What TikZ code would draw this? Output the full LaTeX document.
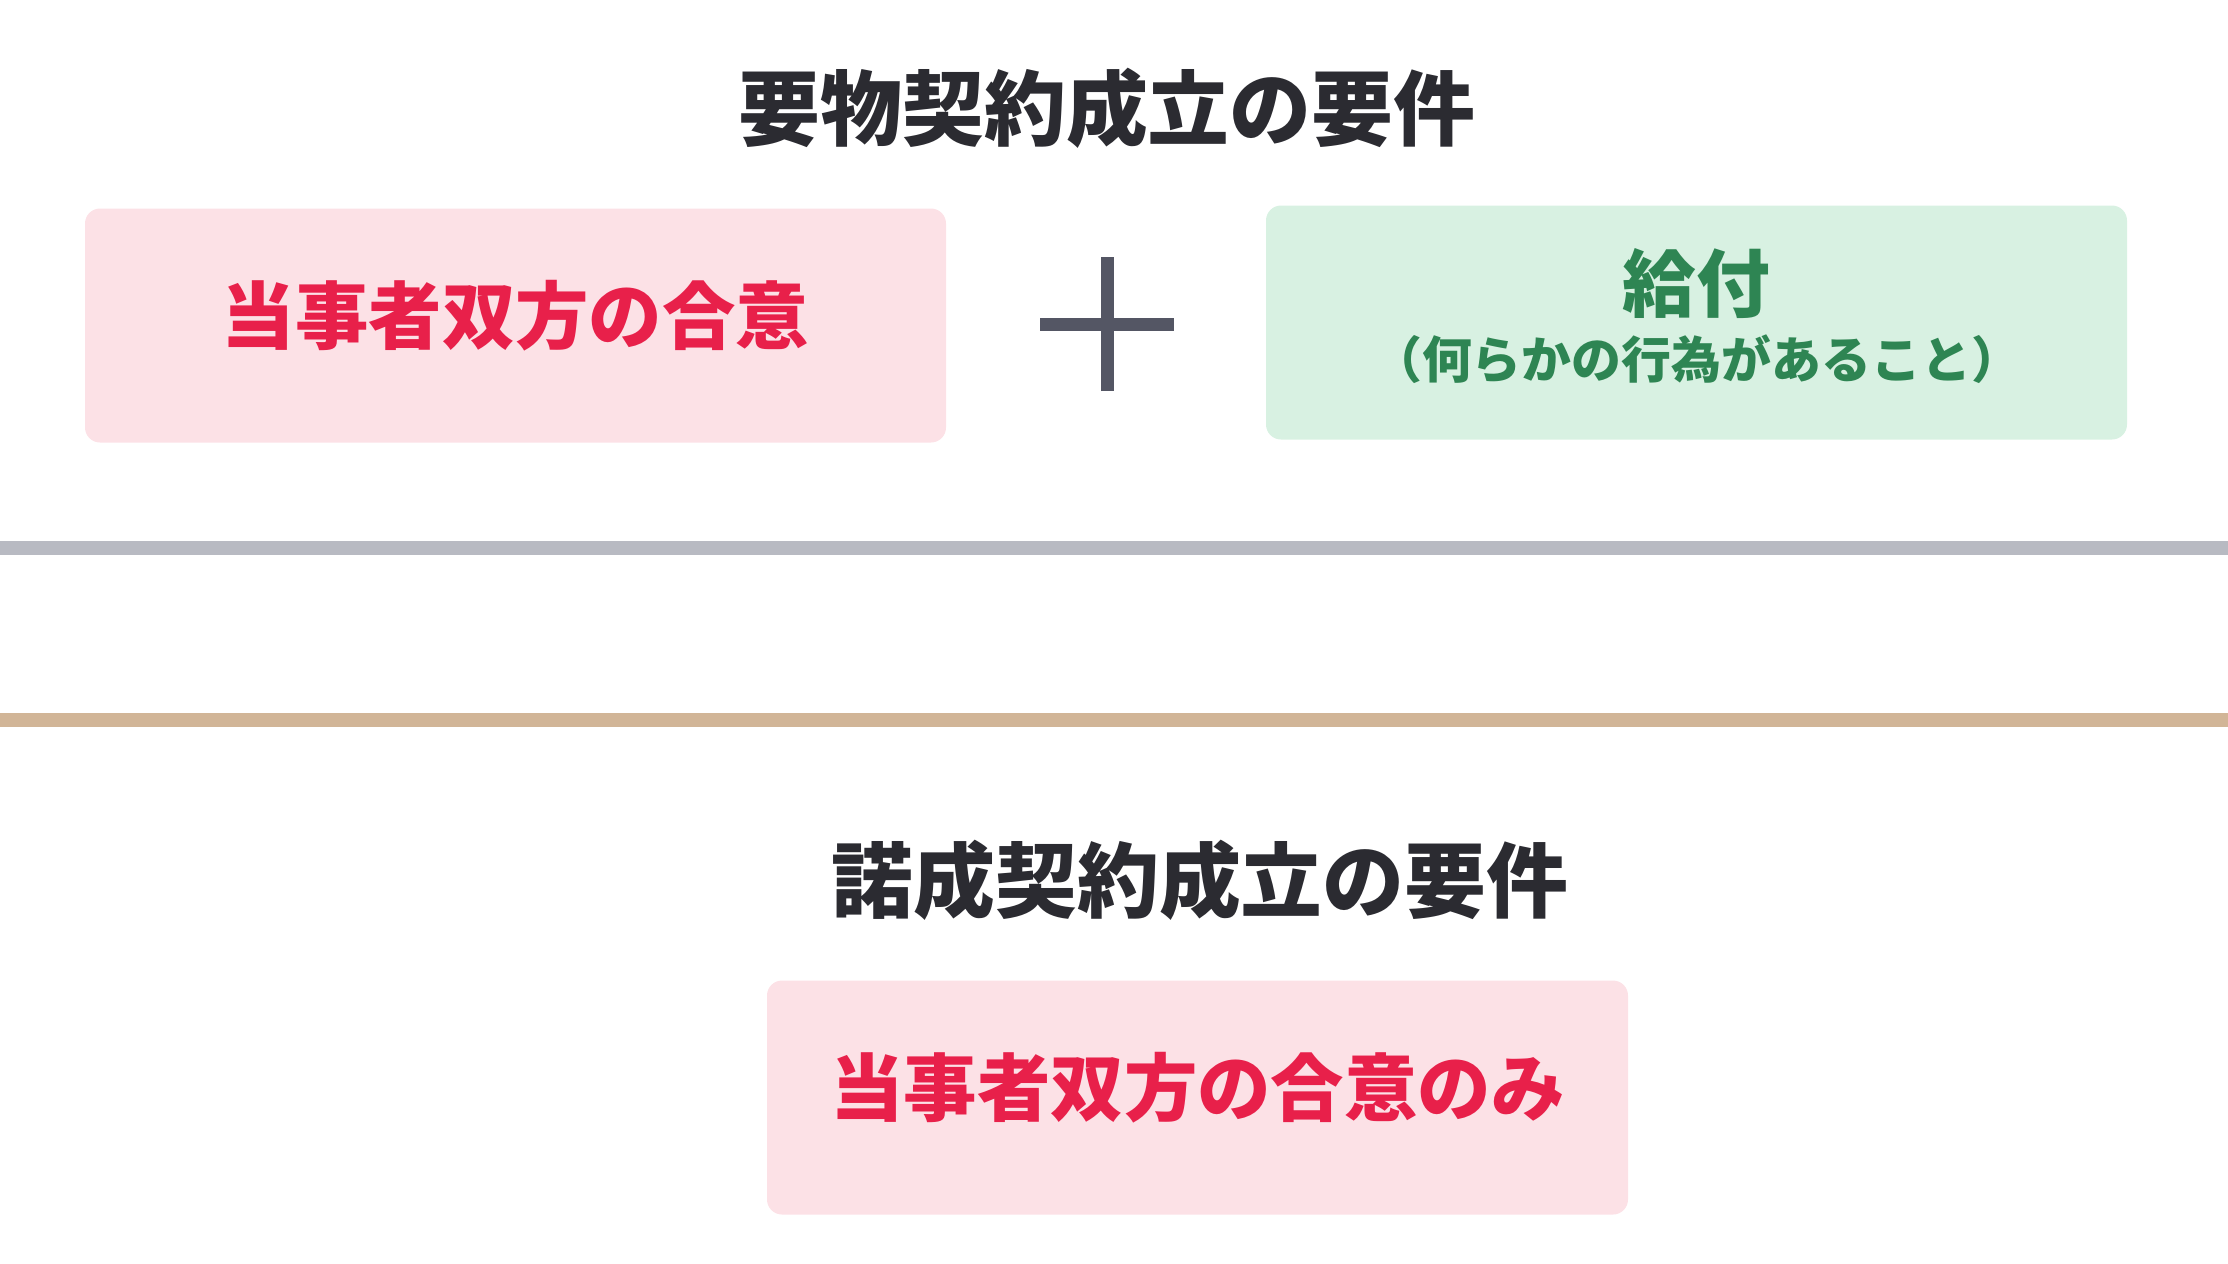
\documentclass[tikz,border=0pt]{standalone}
\usepackage{fontspec}
\setmainfont{Noto Sans CJK JP}
\usepackage{xcolor}
\usepackage{tikz}
\usetikzlibrary{positioning}

\definecolor{inkdark}{HTML}{2B2B31}
\definecolor{pinkfill}{HTML}{FCE1E6}
\definecolor{pinktext}{HTML}{E8204A}
\definecolor{greenfill}{HTML}{D8F1E2}
\definecolor{greentext}{HTML}{2E8553}
\definecolor{plusgray}{HTML}{545664}
\definecolor{rulegray}{HTML}{B8BAC2}
\definecolor{ruletan}{HTML}{D1B597}

\begin{document}
\begin{tikzpicture}[
    title/.style={text=inkdark, font=\fontsize{23.3}{28}\selectfont\bfseries, inner sep=0pt},
    pinkbox/.style={rectangle, fill=pinkfill, rounded corners=0.15cm, minimum width=8.61cm, minimum height=2.34cm, text height=0.6cm, text depth=0.24cm, text=pinktext, font=\fontsize{20.9}{25}\selectfont\bfseries},
    greenbox/.style={rectangle, fill=greenfill, rounded corners=0.15cm, minimum width=8.61cm, minimum height=2.34cm, text height=1.4cm, text depth=0.274cm, text=greentext, align=center, font=\fontsize{21}{24.5}\selectfont\bfseries},
    rule/.style={line width=0.14cm}
]
\useasboundingbox (0,0) rectangle (22.28,-12.63);

% Real contract
\node[title] (realtitle) at (11.07,-1.08) {要物契約成立の要件};
\node[pinkbox] (consent) at (5.155,-3.255) {当事者双方の合意};
\node[greenbox] (delivery) at (16.965,-3.225) {給付\\[-0.185cm]{\fontsize{14.2}{17}\selectfont （何らかの行為があること）}};

% Plus sign
\coordinate (plus) at (11.07,-3.24);
\draw[plusgray, line width=0.13cm] ([xshift=-0.67cm]plus) -- ([xshift=0.67cm]plus);
\draw[plusgray, line width=0.13cm] ([yshift=-0.67cm]plus) -- ([yshift=0.67cm]plus);

% Separators
\draw[rule, rulegray] (0,-5.475) -- (22.28,-5.475);
\draw[rule, ruletan] (0,-7.197) -- (22.28,-7.197);

% Consensual contract
\node[title] (constitle) at (12.0,-8.8) {諾成契約成立の要件};
\node[pinkbox] (consentonly) at (11.975,-10.975) {当事者双方の合意のみ};

\end{tikzpicture}
\end{document}
